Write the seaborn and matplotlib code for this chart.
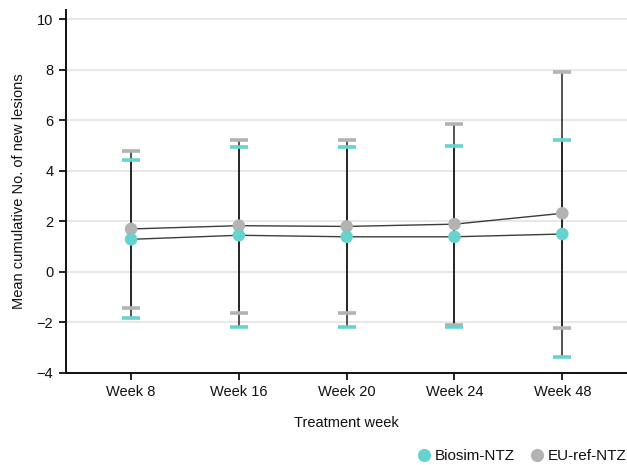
import matplotlib
matplotlib.use("Agg")
import matplotlib.pyplot as plt
from matplotlib.lines import Line2D
import numpy as np
import pandas as pd
import seaborn as sns

weeks = ["Week 8", "Week 16", "Week 20", "Week 24", "Week 48"]

biosim_mean = [1.29, 1.45, 1.39, 1.39, 1.50]
biosim_lower = [-1.84, -2.17, -2.19, -2.19, -3.38]
biosim_upper = [4.45, 4.93, 4.95, 5.00, 5.22]

euref_mean = [1.70, 1.83, 1.80, 1.89, 2.32]
euref_lower = [-1.44, -1.64, -1.64, -2.11, -2.23]
euref_upper = [4.78, 5.22, 5.22, 5.86, 7.93]

series_names = ["Biosim-NTZ", "EU-ref-NTZ"]
colors = {"Biosim-NTZ": "#66d3ce", "EU-ref-NTZ": "#b3b3b3"}

sns.set_theme(style="white")
plt.rcParams["font.family"] = ["Liberation Sans", "DejaVu Sans"]

fig = plt.figure(figsize=(6.27, 4.65), dpi=100)
ax = fig.add_axes([0.105, 0.198, 0.895, 0.780])

df = pd.DataFrame({
    "week": weeks * 2,
    "x": list(range(len(weeks))) * 2,
    "mean": euref_mean + biosim_mean,
    "lower": euref_lower + biosim_lower,
    "upper": euref_upper + biosim_upper,
    "group": ["EU-ref-NTZ"] * len(weeks) + ["Biosim-NTZ"] * len(weeks),
})

# horizontal grid
ax.set_axisbelow(True)
ax.yaxis.grid(True, color="#e8e8e8", linewidth=1.5)
ax.xaxis.grid(False)

for name in ["EU-ref-NTZ", "Biosim-NTZ"]:
    sub = df[df["group"] == name]
    yerr = [sub["mean"] - sub["lower"], sub["upper"] - sub["mean"]]
    ax.errorbar(sub["x"], sub["mean"], yerr=yerr, fmt="none",
                ecolor="#1a1a1a", elinewidth=1.4, alpha=0.75,
                capsize=0, zorder=2)
    # colored caps
    for col in ["upper", "lower"]:
        ax.plot(sub["x"], sub[col], linestyle="none", marker="_",
                markersize=12.5, markeredgewidth=2.6, color=colors[name], zorder=3)
    # connecting line
    sns.lineplot(data=sub, x="x", y="mean", color="#1a1a1a", linewidth=1.0,
                 alpha=0.85, ax=ax, zorder=4, legend=False)

for name in ["EU-ref-NTZ", "Biosim-NTZ"]:
    sub = df[df["group"] == name]
    sns.scatterplot(data=sub, x="x", y="mean", color=colors[name], s=82,
                    edgecolor="none", ax=ax, zorder=5, legend=False)

ax.set_xlim(-0.605, 4.6)
ax.set_ylim(-4, 10.36)
ax.set_yticks([-4, -2, 0, 2, 4, 6, 8, 10])
ax.set_xticks(range(len(weeks)))
ax.set_xticklabels(weeks)

for side in ["top", "right"]:
    ax.spines[side].set_visible(False)
for side in ["left", "bottom"]:
    ax.spines[side].set_color("#111111")
    ax.spines[side].set_linewidth(1.4)

ax.tick_params(axis="both", which="major", length=5, width=1.3, color="#111111",
               labelsize=10.5, labelcolor="#111111", left=True, bottom=True, pad=4)

ax.set_xlabel("Treatment week", fontsize=10.5, color="#111111", labelpad=12)
ax.set_ylabel("Mean cumulative No. of new lesions", fontsize=10.5, color="#111111",
              labelpad=8)

handles = [Line2D([0], [0], marker="o", linestyle="none", markersize=9.5,
                  markerfacecolor=colors[n], markeredgecolor="none", label=n)
           for n in series_names]
fig.legend(handles=handles, loc="lower right", bbox_to_anchor=(1.022, -0.025),
           ncol=2, frameon=False, fontsize=11, handletextpad=-0.05,
           handlelength=1.6, columnspacing=0.6, labelcolor="#111111")

fig.savefig("out.png", dpi=100)
